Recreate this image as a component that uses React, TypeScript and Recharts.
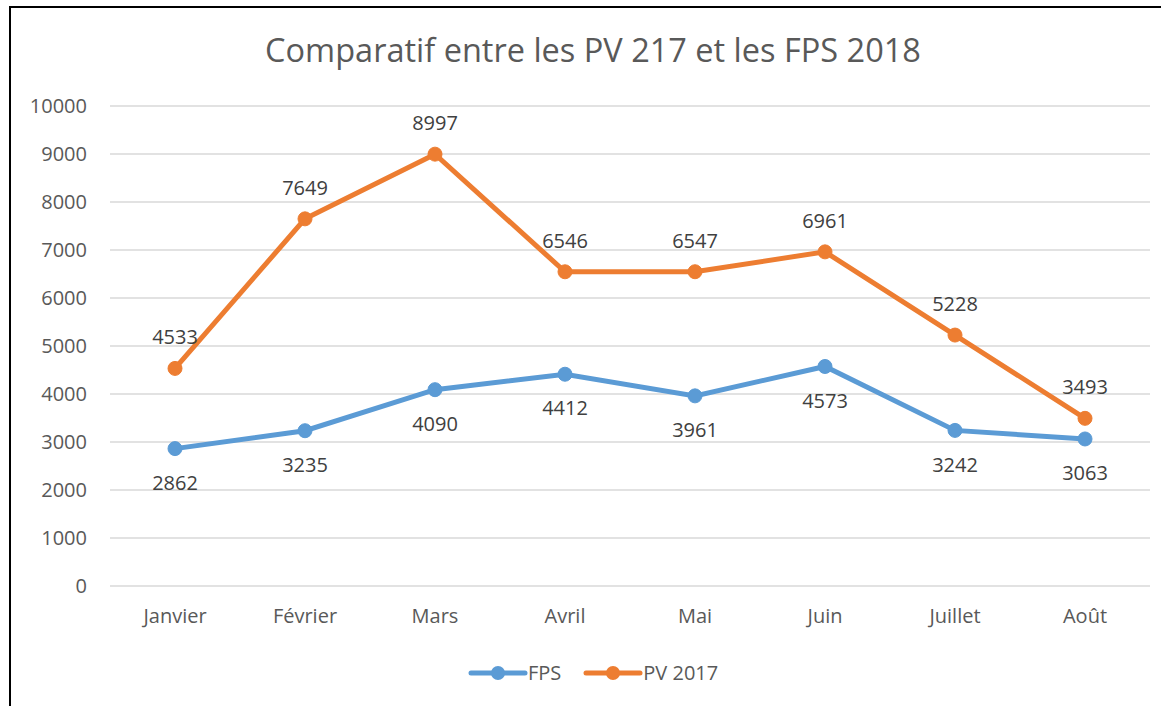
import { LineChart, Line, XAxis, YAxis, CartesianGrid, Legend, LabelList } from 'recharts'

const months = ['Janvier', 'Février', 'Mars', 'Avril', 'Mai', 'Juin', 'Juillet', 'Août']
const fps = [2862, 3235, 4090, 4412, 3961, 4573, 3242, 3063]
const pv2017 = [4533, 7649, 8997, 6546, 6547, 6961, 5228, 3493]
const yTicks = [0, 1000, 2000, 3000, 4000, 5000, 6000, 7000, 8000, 9000, 10000]

const BLUE = '#5b9bd5'
const ORANGE = '#ed7d31'
const FONT = "'Open Sans', sans-serif"

const data = months.map((m, i) => ({ month: m, fps: fps[i], pv: pv2017[i] }))

// legend drawn like the Excel one: thick line with a dot in the middle
const LegendContent = () => {
  const items = [
    { name: 'FPS', color: BLUE },
    { name: 'PV 2017', color: ORANGE },
  ]
  return (
    <div style={{ display: 'flex', alignItems: 'center', fontFamily: FONT, fontSize: 20, color: '#595959' }}>
      {items.map((it) => (
        <div key={it.name} style={{ display: 'flex', alignItems: 'center', marginRight: 22 }}>
          <svg width={60} height={20} style={{ display: 'block' }}>
            <line x1={3} y1={10} x2={57} y2={10} stroke={it.color} strokeWidth={5} strokeLinecap="round" />
            <circle cx={30} cy={10} r={7} fill={it.color} />
          </svg>
          <span>{it.name}</span>
        </div>
      ))}
    </div>
  )
}

export default function App() {
  return (
    <div
      style={{
        position: 'fixed',
        left: 0,
        top: 0,
        width: 1161,
        height: 706,
        overflow: 'hidden',
        background: '#fff',
        fontFamily: FONT,
      }}
    >
      {/* chart frame */}
      <div
        style={{
          position: 'absolute',
          left: 9,
          top: 6,
          width: 1300,
          height: 900,
          border: '2px solid #000',
        }}
      />
      <div
        style={{
          position: 'absolute',
          left: 0,
          width: 1186,
          top: 29,
          textAlign: 'center',
          fontSize: 32.5,
          color: '#595959',
          lineHeight: '42px',
        }}
      >
        Comparatif entre les PV 217 et les FPS 2018
      </div>
      <div style={{ position: 'absolute', left: 0, top: 0 }}>
        <LineChart width={1161} height={706} data={data} margin={{ top: 106, right: 11, left: 0, bottom: 60 }}>
          <CartesianGrid vertical={false} stroke="#d9d9d9" strokeWidth={1.5} />
          <XAxis
            dataKey="month"
            height={60}
            axisLine={false}
            tickLine={false}
            tickSize={0}
            tickMargin={23}
            padding={{ left: 65, right: 65 }}
            tick={{ fill: '#595959', fontSize: 20, fontFamily: FONT }}
          />
          <YAxis
            width={110}
            domain={[0, 10000]}
            ticks={yTicks}
            axisLine={false}
            tickLine={false}
            tickSize={0}
            tickMargin={23}
            tick={{ fill: '#595959', fontSize: 20, fontFamily: FONT }}
          />
          <Legend
            verticalAlign="middle"
            content={<LegendContent />}
            wrapperStyle={{ left: 468, top: 659, width: 300 }}
          />
          <Line
            dataKey="fps"
            name="FPS"
            stroke={BLUE}
            strokeWidth={5}
            dot={{ r: 7, fill: BLUE, stroke: BLUE, strokeWidth: 1 }}
            activeDot={false}
            isAnimationActive={false}
          >
            <LabelList dataKey="fps" position="bottom" offset={27} fill="#404040" fontSize={20} fontFamily={FONT} />
          </Line>
          <Line
            dataKey="pv"
            name="PV 2017"
            stroke={ORANGE}
            strokeWidth={5}
            dot={{ r: 7, fill: ORANGE, stroke: ORANGE, strokeWidth: 1 }}
            activeDot={false}
            isAnimationActive={false}
          >
            <LabelList dataKey="pv" position="top" offset={24} fill="#404040" fontSize={20} fontFamily={FONT} />
          </Line>
        </LineChart>
      </div>
    </div>
  )
}
